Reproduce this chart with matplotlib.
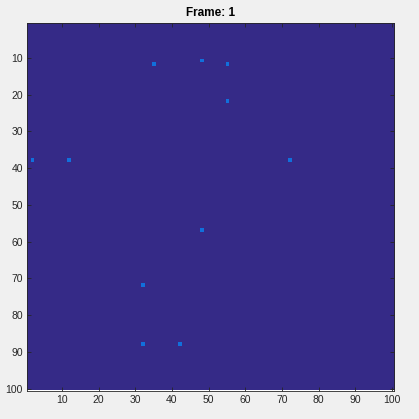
import numpy as np
import matplotlib
matplotlib.use("Agg")
import matplotlib.pyplot as plt
from matplotlib.colors import ListedColormap

# Data: active cells (column, row) in a 100x100 frame
cols = [35, 48, 55, 55, 2, 12, 72, 48, 32, 32, 42]
rows = [12, 11, 12, 22, 38, 38, 38, 57, 72, 88, 88]
n = 100
title = "Frame: 1"

grid = np.zeros((n, n))
for c, r in zip(cols, rows):
    grid[r - 1, c - 1] = 1

plt.rcParams['font.family'] = ['Liberation Sans', 'DejaVu Sans']
fig = plt.figure(figsize=(4.19, 4.19), dpi=100, facecolor='#F0F0F0')
ax = fig.add_axes([27/419, 1 - 390.5/419, 367/419, 367.5/419])
cmap = ListedColormap(['#352A87', '#1170DC'])
ax.imshow(grid, cmap=cmap, vmin=0, vmax=1, interpolation='nearest',
          extent=(0.5, n + 0.5, n + 0.5, 0.5), aspect='auto')
ax.set_xlim(0.5, n + 0.5)
ax.set_ylim(n + 0.5, 0.5)
ax.set_xticks(range(10, 101, 10))
ax.set_yticks(range(10, 101, 10))
ax.tick_params(direction='in', top=True, right=True, length=3, width=0.6,
               labelsize=7.5, colors='#262626', pad=3)
for s in ax.spines.values():
    s.set_linewidth(0.6)
    s.set_color('#262626')
ax.set_title(title, fontsize=8.5, fontweight='bold', pad=5)
fig.savefig('out.png', dpi=100, facecolor='#F0F0F0')
